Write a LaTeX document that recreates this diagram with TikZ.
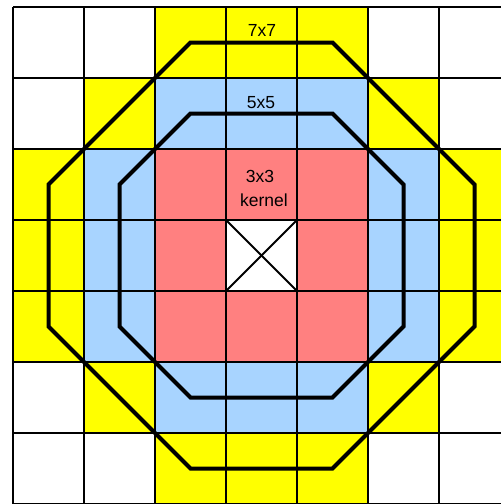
\documentclass[tikz,border=0pt]{standalone}
\usepackage{fontspec}
\setmainfont{Liberation Sans}
\usetikzlibrary{calc}
\definecolor{Y}{HTML}{FFFF00}
\definecolor{B}{HTML}{A8D4FF}
\definecolor{R}{HTML}{FF8080}
\definecolor{W}{HTML}{FFFFFF}
\tikzset{
  gridline/.style={line width=2.2pt, draw=black},
  octo/.style={line width=4pt, draw=black, line join=miter},
  crossline/.style={line width=2pt, draw=black},
  lbl/.style={inner sep=0pt, anchor=base, font=\fontsize{17.5}{20}\selectfont, text=black, align=center}
}
\begin{document}
\begin{tikzpicture}[x=1pt,y=-1pt]
\useasboundingbox (0,0) rectangle (501,504);
\fill[white] (0,0) rectangle (501,504);
\begin{scope}
\clip (0,0) rectangle (501,504);
% cell fills
\foreach \row [count=\j from 0] in {
  {W,W,Y,Y,Y,W,W},
  {W,Y,B,B,B,Y,W},
  {Y,B,R,R,R,B,Y},
  {Y,B,R,W,R,B,Y},
  {Y,B,R,R,R,B,Y},
  {W,Y,B,B,B,Y,W},
  {W,W,Y,Y,Y,W,W}} {
  \foreach \c [count=\i from 0] in \row {
    \fill[fill=\c] ({13+71*\i},{7+71*\j}) rectangle ++(71,71);
  }
}
% grid lines
\foreach \k in {0,...,7} {
  \draw[gridline] ({13+71*\k},7) -- ({13+71*\k},504);
  \draw[gridline] (13,{7+71*\k}) -- (510,{7+71*\k});
}
\end{scope}
% centre cell cross
\coordinate (ctl) at (226,220);
\coordinate (ctr) at (297,220);
\coordinate (cbl) at (226,291);
\coordinate (cbr) at (297,291);
\draw[crossline] (ctl) -- (cbr);
\draw[crossline] (ctr) -- (cbl);
% octagons
\coordinate (C) at (261.5,255.5);
\draw[octo] ($(C)+(-71,-213)$) -- ($(C)+(71,-213)$) -- ($(C)+(213,-71)$) -- ($(C)+(213,71)$)
  -- ($(C)+(71,213)$) -- ($(C)+(-71,213)$) -- ($(C)+(-213,71)$) -- ($(C)+(-213,-71)$) -- cycle;
\draw[octo] ($(C)+(-71,-142)$) -- ($(C)+(71,-142)$) -- ($(C)+(142,-71)$) -- ($(C)+(142,71)$)
  -- ($(C)+(71,142)$) -- ($(C)+(-71,142)$) -- ($(C)+(-142,71)$) -- ($(C)+(-142,-71)$) -- cycle;
% labels
\node[lbl] (l7) at (262,36) {7x7};
\node[lbl] (l5) at (261,108.5) {5x5};
\node[lbl] (l3) at (260,182.5) {3x3};
\node[lbl] (lk) at (264,206) {kernel};
\end{tikzpicture}
\end{document}
